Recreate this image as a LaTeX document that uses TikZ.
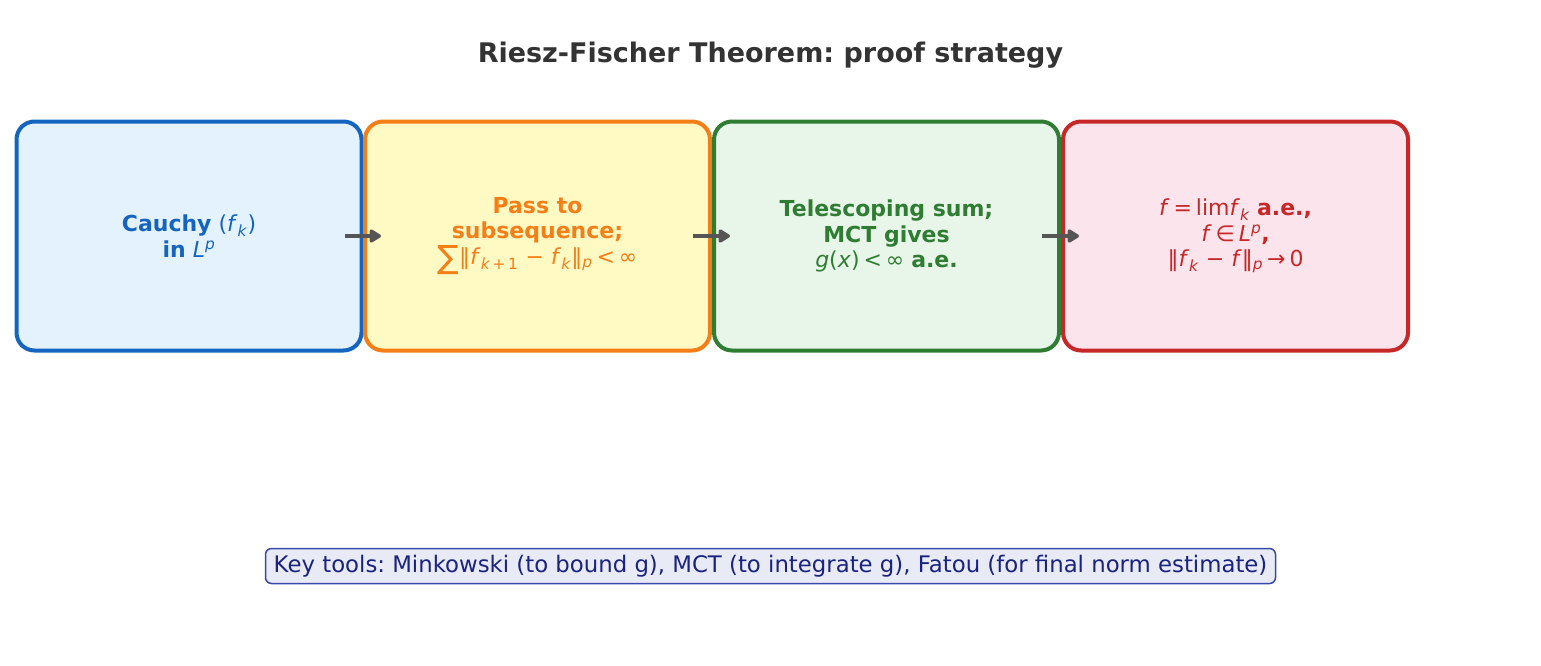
\documentclass[tikz,border=0pt]{standalone}
\usepackage{fontspec}
\setmainfont{DejaVu Sans}
\usetikzlibrary{arrows.meta,calc}
\frenchspacing
\definecolor{titlec}{HTML}{333333}
\definecolor{bluel}{HTML}{1565C0}\definecolor{bluef}{HTML}{E3F2FD}
\definecolor{orl}{HTML}{F57F17}\definecolor{orf}{HTML}{FFF9C4}
\definecolor{grl}{HTML}{2E7D32}\definecolor{grf}{HTML}{E8F5E9}
\definecolor{rdl}{HTML}{C62828}\definecolor{rdf}{HTML}{FCE4EC}
\definecolor{arr}{HTML}{555555}
\definecolor{keyl}{HTML}{3949AB}\definecolor{keyf}{HTML}{E8EAF6}\definecolor{keyt}{HTML}{1A237E}
\newcommand{\mi}[1]{\textit{\mdseries #1}}
\newcommand{\sbs}[1]{\textsubscript{#1}}
\newcommand{\sps}[1]{\textsuperscript{#1}}
\newcommand{\ts}{\hspace{0.18em}}
\tikzset{
  stepbox/.style={draw=#1l, fill=#1f, text=#1l, line width=4pt, rounded corners=18pt,
    minimum width=345pt, minimum height=229pt, align=center,
    font=\fontsize{22}{25.5}\selectfont},
  flowarrow/.style={draw=arr, line width=4pt, -{Triangle[length=13pt,width=15pt,round]}},
}
\begin{document}
\begin{tikzpicture}[x=1pt,y=-1pt]
\useasboundingbox (0,0) rectangle (1541,665);
\node[font=\bfseries\fontsize{27}{32}\selectfont, text=titlec] (title) at (770.5,55) {Riesz-Fischer Theorem: proof strategy};
\node[stepbox=blue] (b1) at (189,236) {\textbf{Cauchy} (\mi{f}\sbs{\mi{k}})\\\textbf{in} \mi{L}\sps{\mi{p}}};
\node[stepbox=or] (b2) at (537.5,236) {\textbf{Pass to}\\\textbf{subsequence;}\\{\fontsize{32}{25}\selectfont\raisebox{-4pt}{∑}}‖\mi{f}\sbs{\mi{k}\,+\,1} − \mi{f}\sbs{\mi{k}}‖\sbs{\mi{p}}\ts<\ts∞};
\node[stepbox=gr] (b3) at (886.5,236) {\textbf{Telescoping sum;}\\\textbf{MCT gives}\\\mi{g}(\mi{x})\ts<\ts∞ \textbf{a.e.}};
\node[stepbox=rd] (b4) at (1235.5,236) {\mi{f}\ts=\ts lim\mi{f}\sbs{\mi{k}} \textbf{a.e.,}\\\mi{f}\ts∈\ts\mi{L}\sps{\mi{p}}\textbf{,}\\‖\mi{f}\sbs{\mi{k}} − \mi{f}‖\sbs{\mi{p}}\ts→\ts0};
\draw[flowarrow] ($(b1.east)+(-19,0)$) -- ($(b2.west)+(18,0)$);
\draw[flowarrow] ($(b2.east)+(-19,0)$) -- ($(b3.west)+(18,0)$);
\draw[flowarrow] ($(b3.east)+(-19,0)$) -- ($(b4.west)+(18,0)$);
\node[draw=keyl, fill=keyf, text=keyt, line width=1.5pt, rounded corners=6pt, minimum width=1010pt, minimum height=35pt, inner sep=2pt, font=\fontsize{22.8}{26}\selectfont] (key) at (770.5,566) {Key tools: Minkowski (to bound g), MCT (to integrate g), Fatou (for final norm estimate)};
\end{tikzpicture}
\end{document}
